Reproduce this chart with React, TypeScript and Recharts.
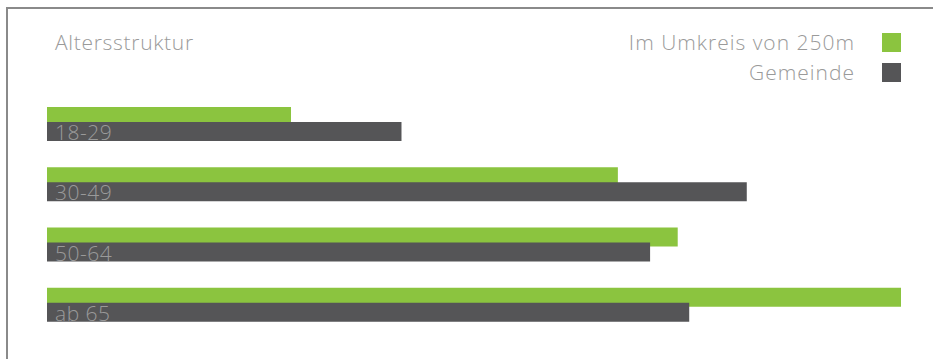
import { BarChart, Bar, XAxis, YAxis, LabelList } from 'recharts';

const categories = ['18-29', '30-49', '50-64', 'ab 65'];
const umkreisValues = [10.6, 24.8, 27.4, 37.1];
const gemeindeValues = [15.4, 30.4, 26.2, 27.9];

const GREEN = '#8bc43f';
const DARK = '#555557';
const TEXT = '#9a9a9a';
const FONT = '"Open Sans", sans-serif';

const data = categories.map((name, i) => ({
    name,
    umkreis: umkreisValues[i],
    gemeinde: gemeindeValues[i],
}));

const legendItems = [
    { label: 'Im Umkreis von 250m', color: GREEN },
    { label: 'Gemeinde', color: DARK },
];

// category text sits inside the dark bar, bottom-left
function CategoryLabel(props: any) {
    const { x, y, height, value } = props;
    return (
        <text
            x={x + 8}
            y={y + height - 1}
            fill={TEXT}
            fontSize={21}
            fontFamily={FONT}
            fontWeight={300}
            letterSpacing={0.5}
        >
            {value}
        </text>
    );
}

export default function App() {
    return (
        <div style={{ position: 'fixed', left: 0, top: 0, width: 933, height: 359, background: '#fff' }}>
            {/* frame: only top and left edges are visible */}
            <div
                style={{
                    position: 'absolute',
                    left: 6,
                    top: 7,
                    right: -10,
                    bottom: -10,
                    borderTop: '2px solid #8a8a8a',
                    borderLeft: '2px solid #8a8a8a',
                }}
            />
            <div
                style={{
                    position: 'absolute',
                    left: 55,
                    top: 28,
                    color: TEXT,
                    fontFamily: FONT,
                    fontWeight: 300,
                    fontSize: 21,
                    letterSpacing: 0.7,
                    lineHeight: '28px',
                }}
            >
                Altersstruktur
            </div>
            <div style={{ position: 'absolute', right: 32, top: 27, fontFamily: FONT, fontWeight: 300 }}>
                {legendItems.map((item) => (
                    <div
                        key={item.label}
                        style={{ display: 'flex', justifyContent: 'flex-end', alignItems: 'center', height: 30 }}
                    >
                        <span
                            style={{
                                color: TEXT,
                                fontSize: 21,
                                letterSpacing: 1,
                                lineHeight: '28px',
                                marginRight: 27,
                            }}
                        >
                            {item.label}
                        </span>
                        <span style={{ width: 19, height: 19, background: item.color, display: 'inline-block' }} />
                    </div>
                ))}
            </div>
            <BarChart
                width={933}
                height={359}
                data={data}
                layout="vertical"
                barGap={-4}
                barSize={19}
                margin={{ top: 94, right: 32, bottom: 24, left: 47 }}
                style={{ position: 'absolute', left: 0, top: 0 }}
            >
                <XAxis type="number" hide domain={[0, 'dataMax']} />
                <YAxis type="category" dataKey="name" hide width={0} />
                <Bar dataKey="umkreis" fill={GREEN} isAnimationActive={false} />
                <Bar dataKey="gemeinde" fill={DARK} isAnimationActive={false}>
                    <LabelList dataKey="name" content={CategoryLabel} />
                </Bar>
            </BarChart>
        </div>
    );
}
